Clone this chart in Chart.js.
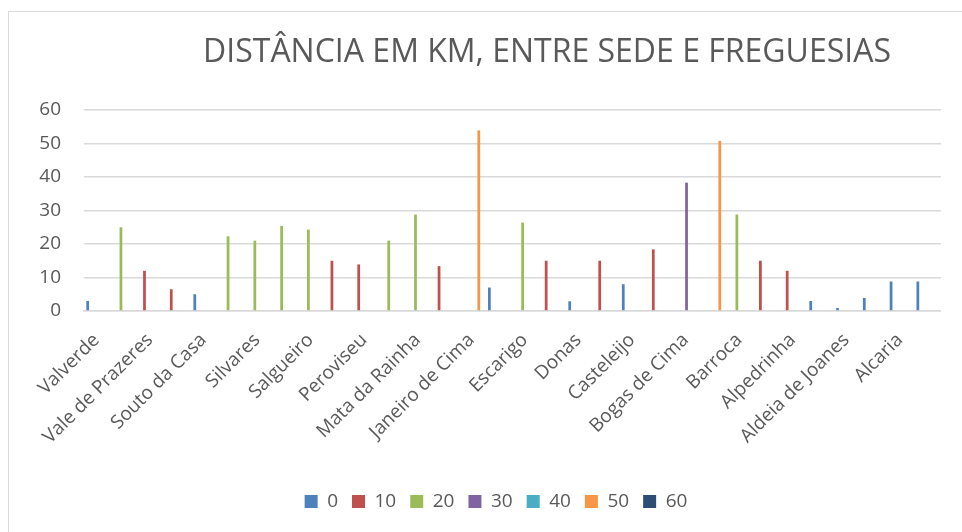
<!DOCTYPE html>
<html>
<head>
<meta charset="utf-8">
<script src="https://cdn.jsdelivr.net/npm/chart.js@4/dist/chart.umd.min.js"></script>
<style>
  html, body { margin: 0; padding: 0; background: #ffffff; }
  #wrap { width: 962px; height: 532px; position: relative; }
</style>
</head>
<body>
<div id="wrap"><canvas id="c" width="962" height="532"></canvas></div>
<script>
const chartTitle = 'DISTÂNCIA EM KM, ENTRE SEDE E FREGUESIAS';

const categories = [
  'Valverde', 'Três Povos', 'Vale de Prazeres', 'Telhado', 'Souto da Casa', 'Soalheira',
  'Silvares', 'Lavacolhos', 'Salgueiro', 'Póvoa de Atalaia', 'Peroviseu', 'Orca',
  'Mata da Rainha', 'Juncal do Campo', 'Janeiro de Cima', 'Fatela', 'Escarigo', 'Enxames',
  'Donas', 'Castelo Novo', 'Casteleijo', 'Capinha', 'Bogas de Cima', 'Bogas de Baixo',
  'Barroca', 'Atalaia do Campo', 'Alpedrinha', 'Aldeia Nova do Cabo', 'Aldeia de Joanes',
  'Alcongosta', 'Alcaria', 'Alcaide'
];

// distance (km) of each freguesia
const distances = [
  3, 25, 12, 6.5, 5, 22.3,
  21, 25.4, 24.3, 15, 13.9, 21,
  28.8, 13.4, 53.9, 7, 26.4, 15,
  2.9, 15, 8, 18.4, 38.3, 50.8,
  28.8, 15, 12, 3, 0.9,
  3.9, 8.8, 8.8
];

// series (band) each freguesia belongs to
const bands = [
  '0', '20', '10', '10', '0', '20',
  '20', '20', '20', '10', '10', '20',
  '20', '10', '50', '0', '20', '10',
  '0', '10', '0', '10', '30', '50',
  '20', '10', '10', '0', '0',
  '0', '0', '0'
];

const seriesNames = ['0', '10', '20', '30', '40', '50', '60'];
const seriesColors = ['#4F81BD', '#C0504D', '#9BBB59', '#8064A2', '#4BACC6', '#F79646', '#2C4D75'];

const yMin = 0;
const yMax = 60;
const yStep = 10;

const datasets = seriesNames.map((name, s) => ({
  label: name,
  data: distances.map((d, i) => (bands[i] === name ? d : null)),
  backgroundColor: seriesColors[s],
  borderWidth: 0,
  categoryPercentage: 0.846,
  barPercentage: 0.85
}));

const textColor = '#595959';
const fontFamily = '"Open Sans", "DejaVu Sans", sans-serif';

const framePlugin = {
  id: 'frame',
  beforeDraw(chart) {
    const ctx = chart.ctx;
    ctx.save();
    ctx.fillStyle = '#ffffff';
    ctx.fillRect(0, 0, chart.width, chart.height);
    ctx.strokeStyle = '#d9d9d9';
    ctx.lineWidth = 1;
    ctx.strokeRect(8.5, 11.5, 2000, 2000);
    ctx.restore();
  }
};

const boxShift = {
  id: 'boxShift',
  afterLayout(chart) {
    const t = chart.titleBlock;
    if (t) { t.left += 66; t.right += 66; }
    const l = chart.legend;
    if (l) { l.left += 15; l.right += 15; }
  }
};

new Chart(document.getElementById('c'), {
  type: 'bar',
  data: { labels: categories, datasets },
  options: {
    responsive: false,
    animation: false,
    devicePixelRatio: 1,
    layout: { padding: { left: 21, right: 21, top: 0, bottom: 11 } },
    plugins: {
      title: {
        display: true,
        text: chartTitle,
        color: textColor,
        font: { family: fontFamily, size: 32, weight: 'normal', lineHeight: 1.2 },
        padding: { top: 34, bottom: 37.6 }
      },
      legend: {
        position: 'bottom',
        labels: {
          color: textColor,
          font: { family: fontFamily, size: 19 },
          boxWidth: 13,
          boxHeight: 13,
          padding: 14
        }
      },
      tooltip: { enabled: false }
    },
    scales: {
      x: {
        grid: { display: false, drawTicks: false },
        border: { display: true, color: '#d9d9d9', width: 1.5 },
        ticks: {
          autoSkip: false,
          minRotation: 45,
          maxRotation: 45,
          padding: 18,
          labelOffset: -1,
          color: textColor,
          font: { family: fontFamily, size: 19 },
          callback: (v, i) => (i % 2 === 0 ? categories[i] : '')
        },
        afterFit(scale) { scale.height = 167; }
      },
      y: {
        min: yMin,
        max: yMax,
        grid: { color: '#d9d9d9', lineWidth: 1.5, drawTicks: false },
        border: { display: false },
        ticks: {
          stepSize: yStep,
          padding: 23,
          color: textColor,
          font: { family: fontFamily, size: 19 }
        },
        afterFit(scale) { scale.width = 63; }
      }
    }
  },
  plugins: [framePlugin, boxShift]
});
</script>
</body>
</html>
